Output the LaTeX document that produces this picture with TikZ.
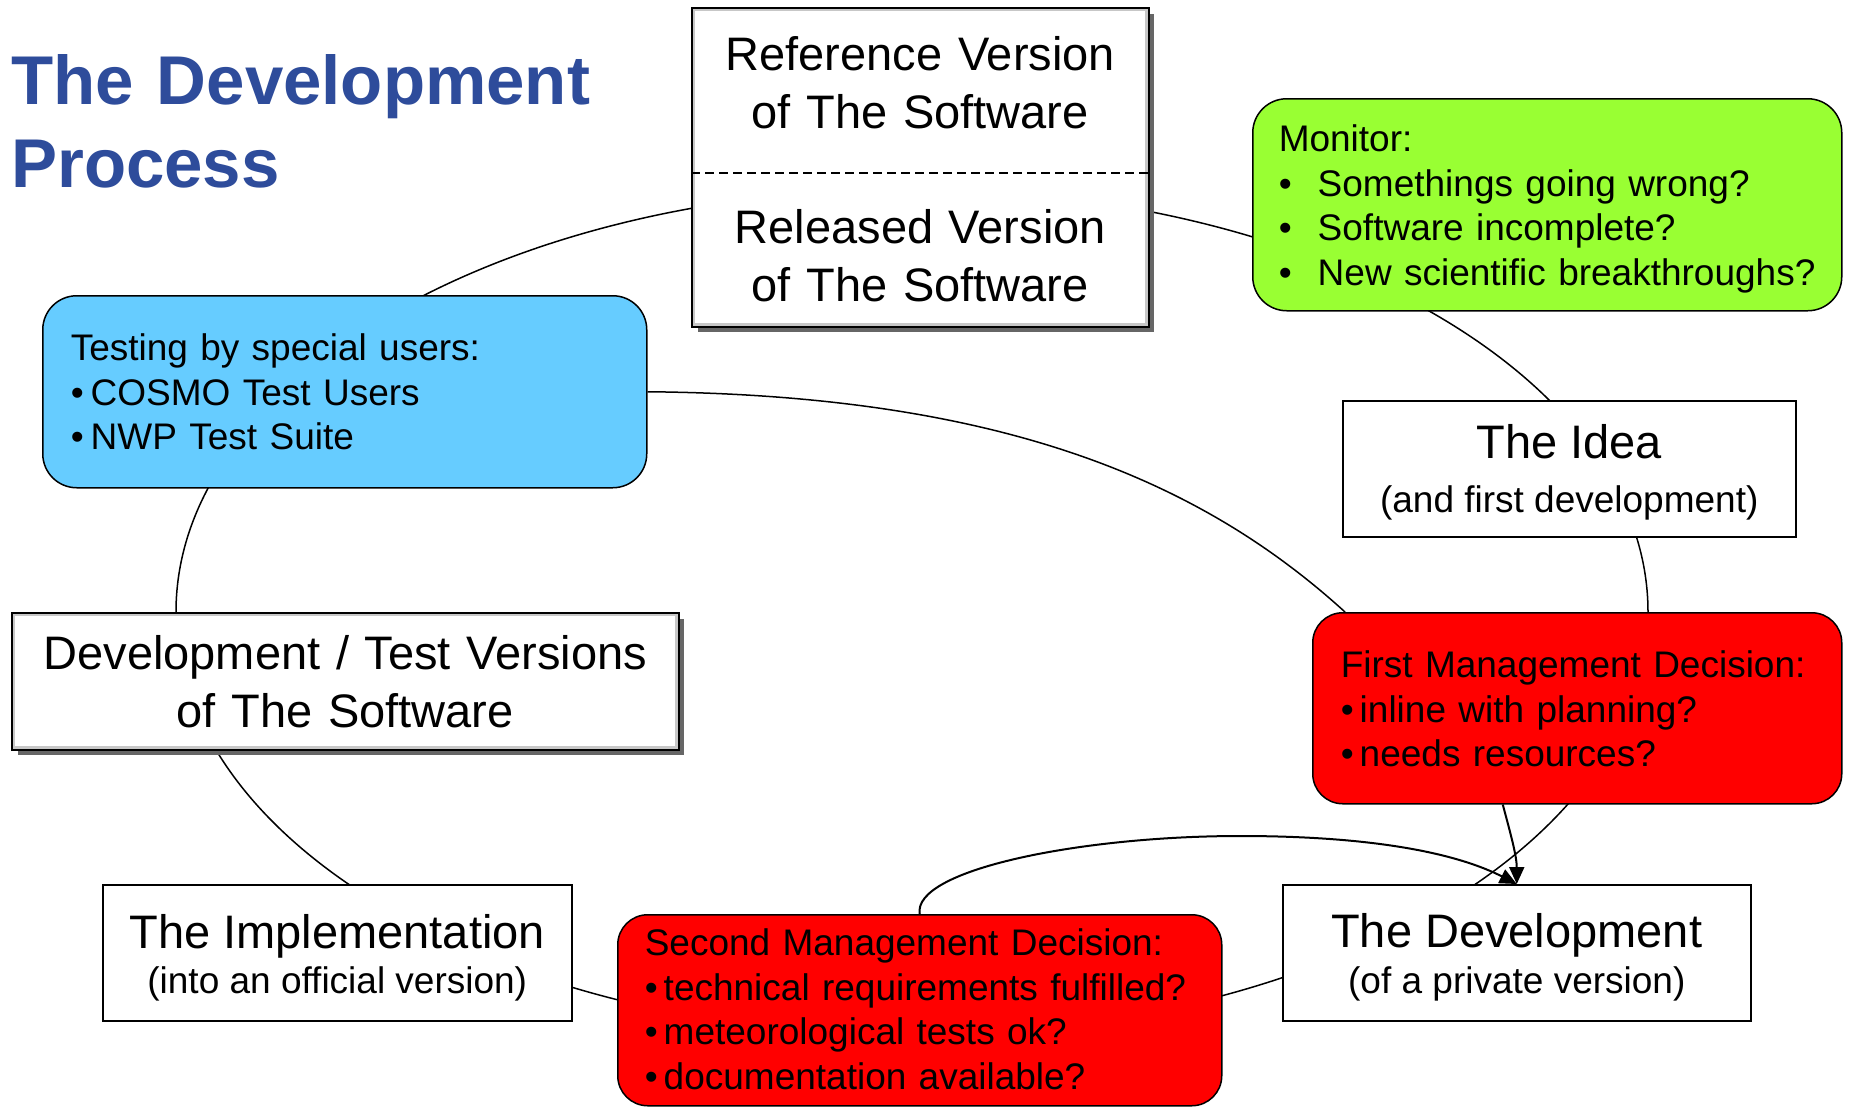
\documentclass[tikz,border=0pt]{standalone}
\usepackage{fontspec}
\setmainfont{Liberation Sans}[Ligatures=NoCommon]
\usetikzlibrary{shadows,arrows.meta}
\definecolor{titleblue}{RGB}{46,76,155}
\definecolor{mongreen}{RGB}{153,255,51}
\definecolor{testblue}{RGB}{102,204,255}
\definecolor{decred}{RGB}{255,0,0}
\pgfdeclarelayer{bg}
\pgfsetlayers{bg,main}
\newcommand\blt[1]{\makebox[#1][l]{•}}
\newcommand\twolines[3]{{\fontsize{47}{47}\selectfont\spaceskip=\fontdimen2\font\relax #1\par}%
  {\fontsize{37}{#3}\selectfont\spaceskip=\fontdimen2\font\relax #2\par}}
\begin{document}
\begin{tikzpicture}[x=1pt,y=-1pt,
  every node/.style={inner sep=0pt, anchor=north west},
  plainbox/.style={draw=black, fill=white, line width=1.5pt, align=center, font=\fontsize{47}{47}\selectfont},
  shadebox/.style={draw=black, fill=white, line width=2.5pt, align=center,
    drop shadow={shadow xshift=6pt, shadow yshift=-6pt, fill=black!60, opacity=1}},
  listbox/.style={draw=black, line width=1.5pt, align=left, font=\fontsize{37}{44.5}\selectfont},
  bigfont/.style={font=\fontsize{47}{58}\selectfont},
  ring/.style={line width=1.5pt},
  arr/.style={line width=2pt, -{Triangle[length=17pt,width=15pt]}},
]
\useasboundingbox (0,0) rectangle (1852,1106);

% title
\node[font=\bfseries\fontsize{69}{83}\selectfont, text=titleblue, text width=700pt,
  align=left, anchor=base west] (title) at (11,104) {The Development\\Process};

% boxes
\node[shadebox, bigfont, text width=456pt, text height=62pt, text depth=256pt] (ref) at (691,7)
  {Reference Version\\of The Software\\[57pt]Released Version\\of The Software};
\node[shadebox, bigfont, text width=666pt, text height=56pt, text depth=80pt] (devtest) at (11,612)
  {Development / Test Versions\\of The Software};
\foreach \n in {ref,devtest}
  \draw[black!22, line width=2.5pt] ([shift={(3pt,-3pt)}]\n.north west) rectangle ([shift={(-3pt,3pt)}]\n.south east);
\draw[line width=1.5pt, dash pattern=on 9pt off 5pt] ([yshift=-166pt]ref.north west) -- ([yshift=-166pt]ref.north east);

\node[listbox, fill=mongreen, rounded corners=34pt, text width=537pt, inner xsep=26pt,
  text height=53pt, text depth=159pt] (mon) at (1252,98)
  {Monitor:\\\blt{39pt}Somethings going wrong?\\\blt{39pt}Software incomplete?\\\blt{39pt}New scientific breakthroughs?};

\node[listbox, fill=testblue, rounded corners=34pt, text width=548pt, inner xsep=28pt,
  text height=65pt, text depth=127pt] (test) at (42,295)
  {Testing by special users:\\\blt{20pt}COSMO Test Users\\\blt{20pt}NWP Test Suite};

\node[plainbox, text width=453pt, text height=58pt, text depth=78pt] (idea) at (1342,400)
  {\twolines{The Idea}{(and first development)}{54pt}};

\node[listbox, fill=decred, rounded corners=30pt, text width=473pt, inner xsep=28pt,
  text height=65pt, text depth=126pt] (first) at (1312,612)
  {First Management Decision:\\\blt{19pt}inline with planning?\\\blt{19pt}needs resources?};

\node[plainbox, text width=469pt, text height=64pt, text depth=72pt] (impl) at (102,884)
  {\twolines{The Implementation}{(into an official version)}{45pt}};

\node[listbox, fill=decred, rounded corners=30pt, text width=550pt, inner xsep=27pt,
  text height=41pt, text depth=150pt] (second) at (617,914)
  {Second Management Decision:\\\blt{19pt}technical requirements fulfilled?\\\blt{19pt}meteorological tests ok?\\\blt{19pt}documentation available?};

\node[plainbox, text width=468pt, text height=63pt, text depth=73pt] (dev) at (1282,884)
  {\twolines{The Development}{(of a private version)}{46pt}};

% connectors behind the boxes: the development cycle ring and the test feedback
\begin{pgfonlayer}{bg}
  \fill[white] (0,0) rectangle (1852,1106);
  \draw[ring] (912,612) ellipse [x radius=736pt, y radius=423pt];
  \draw[ring] (test.east) .. controls (1000,395) and (1200,480) .. ([xshift=33pt]first.north west);
\end{pgfonlayer}

% decision arrows
\draw[arr] ([xshift=-74.5pt]first.south) .. controls +(8,30) and +(0,-28) .. (dev.north);
\draw[arr] (second.north) .. controls (912,870) and (1080,836) .. (1240,836)
  .. controls (1380,836) and (1460,855) .. (dev.north);
\end{tikzpicture}
\end{document}
